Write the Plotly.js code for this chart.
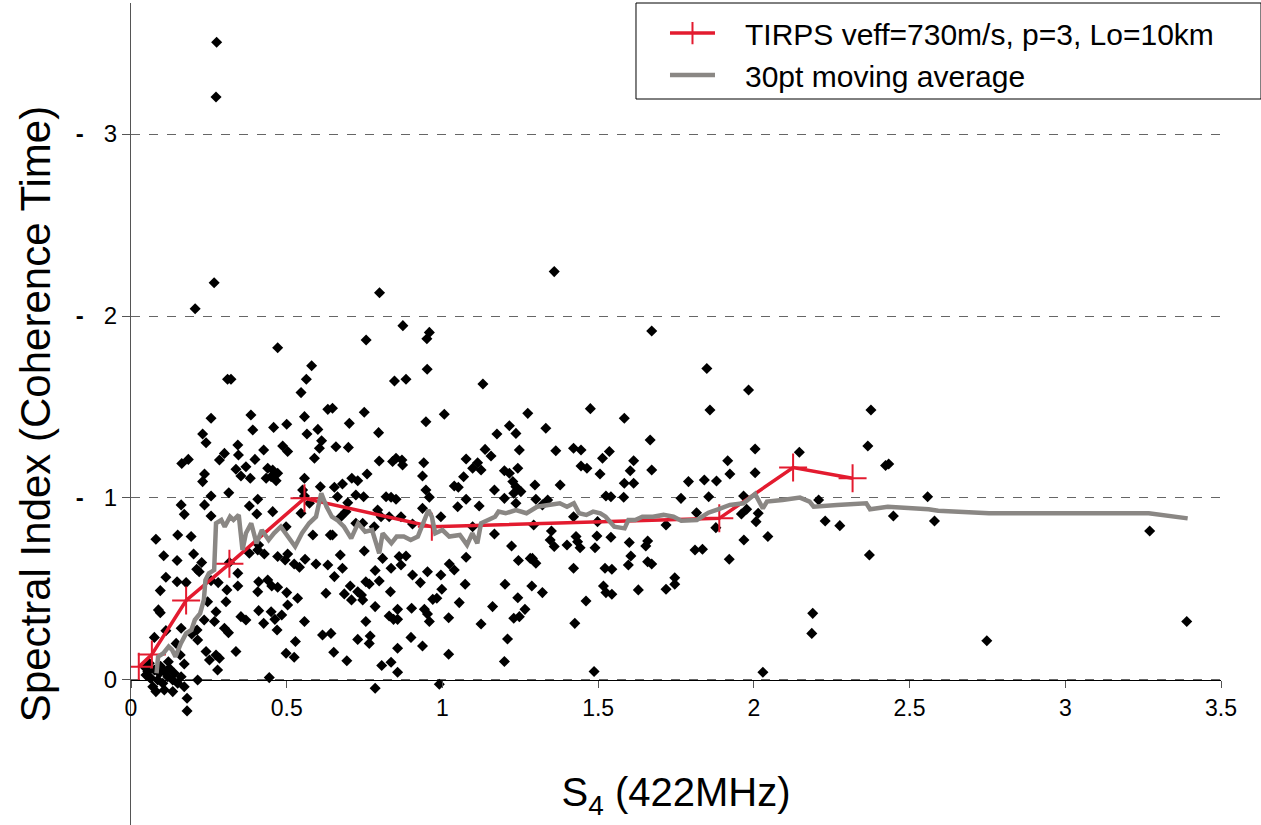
<!DOCTYPE html>
<html>
<head>
<meta charset="utf-8">
<script src="https://cdn.plot.ly/plotly-3.0.1.min.js"></script>
<style>html,body{margin:0;padding:0;background:#fff;}#chart{width:1261px;height:825px;}</style>
</head>
<body>
<div id="chart"></div>
<script>
const obsNearOrigin = [
[.105,.683],[.148,.656],[.201,.692],[.227,.645],[.211,.608],[.219,.595],[.316,.645],[.343,.586],[.380,.696],[.410,.742],
[.407,.714],[.428,.692],[.471,.678],[.495,.659],[.503,.692],[.524,.637],[.541,.619],[.559,.663],[.594,.637],[.632,.632],
[.112,.564],[.148,.540],[.177,.535],[.094,.491],[.257,.546],[.280,.535],[.308,.495],[.343,.516],[.410,.540],[.439,.549],
[.452,.516],[.471,.509],[.407,.485],[.500,.480],[.535,.449],[.626,.476],[.088,.385],[.094,.370],[.246,.430],[.305,.430],
[.273,.375],[.235,.330],[.268,.321],[.353,.348],[.369,.330],[.410,.381],[.426,.311],[.450,.375],[.462,.333],[.469,.275],
[.484,.357],[.503,.412],[.557,.321],[.615,.247],[.642,.256],[.075,.234],[.112,.271],[.161,.284],[.145,.201],[.195,.253],
[.212,.275],[.214,.220],[.300,.284],[.313,.260],[.337,.156],[.498,.147],[.524,.125],[.528,.211],[.158,.137],[.171,.088],
[.241,.156],[.273,.137],[.284,.119],[.252,.110],[.278,.055],[.214,0.0],[.444,.013],
[.043,.073],[.059,.092],[.075,.055],[.091,.037],[.107,.046],[.123,.064],[.048,.027],[.064,.009],[.086,0],[.102,-.018],
[.118,.018],[.134,0],[.070,-.037],[.107,-.055],[.134,-.064],[.161,.018],[.171,-.037],[.180,-.101],[.139,.037],[.150,-.018],
[.080,-.064],[.054,.046],[.180,-.170],[.062,.010],[.095,.075],[.120,.100]
];
const obsLeftUpper = [
[.546,1.579],[.257,1.438],[.385,1.456],[.557,1.447],[.632,1.487],[.230,1.352],[.241,1.304],[.391,1.374],[.458,1.388],[.500,1.405],
[.565,1.352],[.600,1.377],[.612,1.315],[.605,1.273],[.343,1.291],[.345,1.236],[.300,1.245],[.284,1.209],[.426,1.264],[.487,1.286],
[.503,1.255],[.398,1.212],[.163,1.190],[.184,1.212],[.589,1.218],[.337,1.158],[.369,1.172],[.353,1.121],[.383,1.108],[.439,1.163],
[.455,1.154],[.471,1.136],[.450,1.117],[.466,1.095],[.434,1.108],[.236,1.132],[.230,1.090],[.557,1.108],[.257,1.011],[.314,1.029],
[.407,.993],[.551,1.044],[.557,1.011],[.573,.971],[.608,1.062],[.161,.962],[.171,.910],[.236,.962],[.380,.956],[.404,.912],
[.455,.925],[.257,.901],[.546,.916],[.498,.842],[.584,.797],[.640,.797],[.080,.773],[.150,.797],[.193,.788]
];
const obsMidUpper = [
[.647,1.493],[.749,1.471],[.701,1.410],[.795,1.359],[.947,1.419],[1.006,1.460],[1.274,1.465],[1.215,1.397],[1.236,1.355],[1.175,1.352],
[.658,1.282],[.698,1.278],[.797,1.203],[.840,1.200],[.851,1.218],[.870,1.209],[.872,1.181],[.940,1.194],[.936,1.121],[1.076,1.214],
[1.113,1.194],[1.137,1.267],[1.156,1.231],[1.124,1.154],[1.097,1.163],[1.199,1.150],[1.215,1.136],[1.226,1.090],[1.242,1.163],[1.247,1.264],
[1.068,1.117],[.709,1.108],[.728,1.095],[.758,1.132],[.679,1.077],[.653,1.059],[.663,1.007],[.696,.974],[.722,1.016],[.747,1.007],
[.819,1.007],[.835,1.004],[.851,.993],[.947,1.044],[.958,1.004],[1.038,1.066],[1.051,1.059],[1.167,1.044],[1.236,1.062],[1.252,1.035],
[1.199,.998],[1.229,1.026],[1.236,.971],[1.076,.993],[1.049,.952],[1.118,.956],[.936,.943],[.792,.934],[.803,.897],[.829,.897],
[.867,.897],[.904,.857],[.995,.897],[.690,.925],[.674,.897],[.722,.861],[.744,.861],[.781,.842],[1.097,.842],[1.167,.802],[.647,.797]
];
const obsMidLower = [
[.672,.687],[.749,.709],[.808,.668],[.861,.678],[.883,.681],[.867,.632],[.835,.614],[.784,.601],[.679,.614],[.653,.568],
[.952,.595],[.904,.577],[.995,.577],[1.022,.637],[1.038,.604],[1.076,.674],[1.222,.736],[1.244,.656],[1.282,.668],[.929,.535],
[.797,.544],[.754,.540],[.765,.527],[.704,.516],[.685,.473],[.708,.440],[.728,.485],[.740,.467],[.744,.440],[.833,.485],
[.998,.498],[1.073,.526],[1.201,.526],[1.242,.452],[1.265,.388],[.969,.443],[.982,.449],[1.054,.425],[1.161,.403],[.784,.403],
[.856,.388],[.901,.394],[.942,.388],[.952,.363],[.958,.321],[.829,.352],[.843,.333],[.856,.333],[1.020,.342],[1.124,.308],
[1.229,.339],[1.247,.348],[.754,.321],[.768,.242],[.765,.201],[.728,.223],[.899,.234],[.936,.187],[.856,.174],[.651,.152],
[1.209,.225],[1.020,.141],[.693,.106],[.805,.079],[.835,.097],[.856,.042],[1.199,.101],[.784,-.046],[.990,-.024]
];
const obsRight = [
[1.359,2.244],[1.672,1.918],[1.849,1.712],[1.859,1.484],[1.475,1.491],[1.584,1.438],[1.332,1.383],[1.364,1.260],[1.421,1.273],[1.445,1.264],
[1.667,1.319],[1.536,1.255],[1.514,1.218],[1.614,1.205],[1.603,1.150],[1.445,1.176],[1.464,1.163],[1.506,1.132],[1.672,1.154],[1.916,1.205],
[1.923,1.132],[1.790,1.090],[1.841,1.099],[1.880,1.093],[1.584,1.081],[1.614,1.081],[1.297,1.071],[1.378,1.071],[1.525,1.011],[1.541,1.007],
[1.582,1.004],[1.766,.998],[1.855,1.007],[1.300,.993],[1.338,.989],[1.321,.962],[1.421,.897],[1.816,.919],[1.293,.852],[1.350,.819],
[1.498,.870],[1.718,.852],[1.878,.837],[1.346,.769],[1.359,.733],[1.400,.742],[1.429,.788],[1.434,.760],[1.442,.727],[1.496,.791],
[1.490,.727],[1.541,.784],[1.600,.755],[1.659,.764],[1.653,.736],[1.605,.681],[1.597,.632],[1.659,.650],[1.672,.637],[1.811,.714],
[1.835,.718],[1.921,.663],[1.289,.668],[1.300,.641],[1.421,.614],[1.522,.614],[1.544,.608],[1.287,.516],[1.321,.480],[1.517,.516],
[1.525,.480],[1.544,.471],[1.629,.495],[1.718,.498],[1.746,.526],[1.746,.562],[1.461,.434],[1.425,.311],[1.487,.046],
[1.983,1.593],[2.004,1.269],[2.004,1.139],[1.967,1.011],[1.960,.912],[1.977,.938],[2.007,.870],[2.014,.916],[1.968,.769],[2.045,.788],
[2.029,.042],[2.146,1.251],[2.208,.989],[2.229,.874],[2.276,.848],[2.189,.366],[2.186,.256],[2.366,1.286],[2.376,1.484],[2.423,1.178],
[2.433,1.187],[2.448,.901],[2.371,.687],[2.558,1.007],[2.580,.874],[2.748,.216],[3.271,.819],[3.390,.321]
];
const obsHigh = [
[.275,3.504],[.273,3.203],[.267,2.183],[.206,2.040],[.798,2.128],[.471,1.826],[.580,1.727],[.755,1.868],[.873,1.947],[.950,1.875],
[.958,1.910],[.951,1.707],[.310,1.652],[.321,1.652],[.563,1.652],[.846,1.643],[.883,1.652],[1.130,1.626]
];

// TIRPS model curve
const tirpsS4 = [0.025, 0.067, 0.177, 0.316, 0.557, 0.966, 1.889, 2.126, 2.317];
const tirpsIndex = [0.072, 0.140, 0.437, 0.638, 0.998, 0.842, 0.888, 1.167, 1.108];

// 30pt moving average
const maS4 = [.082,.087,.104,.121,.132,.143,.160,.177,.194,.205,.222,.234,.239,.250,.267,.273,.290,.301,.318,.329,.346,.358,.369,.386,.403,.420,.442,.459,.481,.504,.527,.549,.572,.594,.611,.628,.645,.662,.684,.707,.729,.752,.774,.797,.808,.836,.853,.876,.898,.921,.955,.966,.977,1.000,1.022,1.056,1.079,1.096,1.112,1.124,1.169,1.180,1.203,1.236,1.270,1.304,1.338,1.377,1.400,1.422,1.439,1.462,1.484,1.507,1.524,1.552,1.585,1.597,1.619,1.642,1.676,1.710,1.742,1.767,1.817,1.854,1.885,1.923,1.967,1.992,2.004,2.029,2.042,2.092,2.148,2.179,2.192,2.267,2.361,2.373,2.430,2.561,2.592,2.755,3.268,3.393];
const maIndex = [.037,.128,.147,.183,.165,.128,.201,.256,.275,.330,.366,.440,.549,.586,.604,.861,.879,.842,.897,.879,.907,.714,.806,.861,.751,.824,.769,.806,.842,.788,.733,.806,.861,.897,1.026,.952,.897,.879,.842,.778,.861,.815,.824,.696,.806,.751,.788,.788,.769,.788,.934,.897,.806,.824,.788,.797,.742,.806,.751,.861,.897,.925,.916,.934,.916,.952,.962,.971,.952,.971,.916,.907,.925,.916,.897,.842,.833,.879,.879,.897,.897,.907,.897,.875,.879,.919,.938,.962,.971,1.007,1.022,.943,.980,.989,1.002,.980,.952,.962,.971,.938,.952,.938,.930,.916,.916,.888];

const seriesNames = ['TIRPS veff=730m/s, p=3, Lo=10km', '30pt moving average'];
const yTickVals = [0, 1, 2, 3];
const yTickText = ['0', '<b>-</b>\u00a0\u00a0\u00a01', '<b>-</b>\u00a0\u00a0\u00a02', '<b>-</b>\u00a0\u00a0\u00a03'];
const xTickVals = [0, 0.5, 1, 1.5, 2, 2.5, 3, 3.5];

const allObs = [].concat(obsNearOrigin, obsLeftUpper, obsMidUpper, obsMidLower, obsRight, obsHigh);
const lead = '\u00a0\u00a0\u00a0';

const traces = [
  {x: allObs.map(p => p[0]), y: allObs.map(p => p[1]), type: 'scatter', mode: 'markers',
   marker: {symbol: 'diamond', size: 8.5, color: '#000'}, showlegend: false, hoverinfo: 'x+y'},
  {x: tirpsS4, y: tirpsIndex, type: 'scatter', mode: 'lines+markers', name: lead + seriesNames[0],
   line: {color: '#e31b2f', width: 3.5},
   marker: {symbol: 'cross-thin', size: 20, color: '#e31b2f', line: {color: '#e31b2f', width: 2}}},
  {x: maS4, y: maIndex, type: 'scatter', mode: 'lines', name: lead + seriesNames[1],
   line: {color: '#8a8784', width: 4.5}}
];

const yBottom = -0.797, yTop = 3.72;
const layout = {
  width: 1261, height: 825,
  margin: {l: 131, r: 40, t: 3, b: 0, pad: 0},
  paper_bgcolor: '#fff', plot_bgcolor: '#fff',
  font: {family: 'Liberation Sans, Arial, sans-serif', color: '#000'},
  showlegend: true,
  legend: {x: 0.4899, xanchor: 'left', y: 0.995, yanchor: 'top', bgcolor: 'rgba(0,0,0,0)',
           borderwidth: 0, font: {size: 30, color: '#000'},
           itemwidth: 45, tracegroupgap: 0},
  shapes: [{type: 'rect', xref: 'paper', yref: 'paper', x0: 0.4633, x1: 1.0367, y0: 0.8832, y1: 1.0,
            line: {color: '#000', width: 1}, fillcolor: '#fff', layer: 'above'}],
  xaxis: {range: [0, 3.5], anchor: 'free', position: (-yBottom) / (yTop - yBottom),
          showline: true, linecolor: '#000', linewidth: 1.5, ticks: 'outside', ticklen: 7,
          tickcolor: '#555', tickwidth: 1, tickvals: xTickVals, ticktext: xTickVals.map(String),
          tickfont: {size: 23, family: 'Liberation Sans Narrow, Arial Narrow, Liberation Sans, sans-serif'},
          showgrid: false, zeroline: false, automargin: false,
          title: {text: 'S<sub>4</sub> (422MHz)', font: {size: 40}, standoff: 58}},
  yaxis: {range: [yBottom, yTop], showline: true, linecolor: '#555', linewidth: 1, ticks: 'outside',
          ticklen: 8, tickcolor: '#555', tickvals: yTickVals, ticktext: yTickText,
          tickfont: {size: 24}, showgrid: true, gridcolor: '#666', griddash: 'dash', gridwidth: 1,
          zeroline: false, automargin: false,
          title: {text: 'Spectral Index (Coherence Time)', font: {size: 42}, standoff: 12}}
};

Plotly.newPlot('chart', traces, layout, {displayModeBar: false, staticPlot: true});
</script>
</body>
</html>
